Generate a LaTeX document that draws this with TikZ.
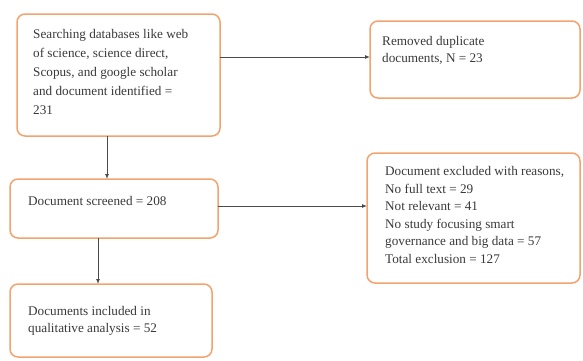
\documentclass[tikz,border=0pt]{standalone}
\usepackage{fontspec}
\setmainfont{Liberation Serif}
\usetikzlibrary{arrows.meta}
\definecolor{boxline}{HTML}{F2A36E}
\definecolor{txt}{HTML}{3A3A3A}
\definecolor{arr}{HTML}{4A4A4A}
\tikzset{
  flowbox/.style={draw=boxline, line width=1.5pt, rounded corners=8pt, fill=white},
  boxtext/.style={anchor=north west, align=left, text=txt, font=\fontsize{13.2}{17.5}\selectfont, inner sep=0pt},
  conn/.style={draw=arr, line width=0.9pt, -{Latex[length=5pt,width=4pt]}}
}
\begin{document}
\begin{tikzpicture}[x=1pt,y=-1pt]
\useasboundingbox (0,0) rectangle (583,360);
% boxes
\path[flowbox] (17,14) rectangle (220,136);
\node[inner sep=0pt] (b1) at (118.5,75) {};
\path[flowbox] (370,21) rectangle (580,98);
\node[inner sep=0pt] (b2) at (475,59.5) {};
\path[flowbox] (10,179) rectangle (218,238);
\node[inner sep=0pt] (b3) at (114,208.5) {};
\path[flowbox] (367,153) rectangle (580,283);
\node[inner sep=0pt] (b4) at (473.5,218) {};
\path[flowbox] (10,284) rectangle (212,357);
\node[inner sep=0pt] (b5) at (111,320.5) {};
% texts
\node[boxtext, font=\fontsize{13.2}{19}\selectfont] (t1) at (33,29) {Searching databases like web\\of science, science direct,\\Scopus, and google scholar\\and document identified =\\231};
\node[boxtext] (t2) at (382,36) {Removed duplicate\\documents, N = 23};
\node[boxtext] (t3) at (28,196) {Document screened = 208};
\node[boxtext] (t4) at (385,166.5) {Document excluded with reasons,\\No full text = 29\\Not relevant = 41\\No study focusing smart\\governance and big data = 57\\Total exclusion = 127};
\node[boxtext] (t5) at (28,306) {Documents included in\\qualitative analysis = 52};
% connectors
\coordinate (c1s) at (220,57); \coordinate (c1e) at (370,57);
\draw[conn] (c1s) -- (c1e);
\coordinate (c2s) at (107,136); \coordinate (c2e) at (107,179);
\draw[conn] (c2s) -- (c2e);
\coordinate (c3s) at (218,206); \coordinate (c3e) at (367,206);
\draw[conn] (c3s) -- (c3e);
\coordinate (c4s) at (98,238); \coordinate (c4e) at (98,284);
\draw[conn] (c4s) -- (c4e);
\end{tikzpicture}
\end{document}
